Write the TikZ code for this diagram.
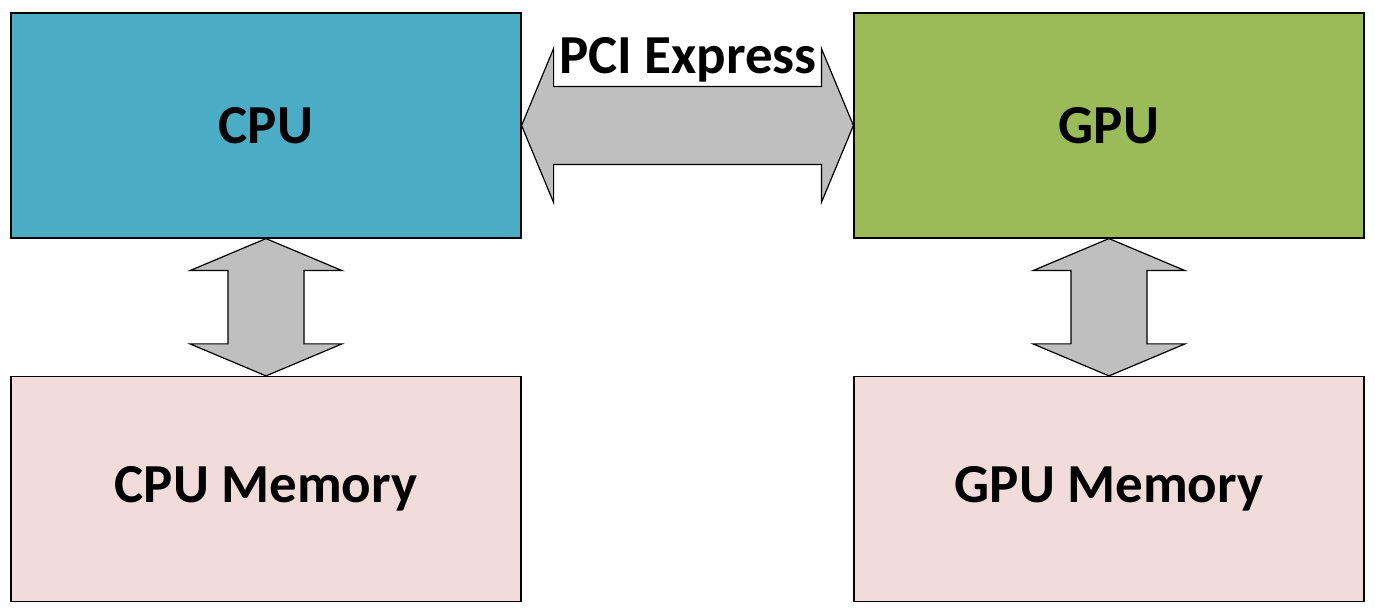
\documentclass[tikz,border=0pt]{standalone}
\usepackage{fontspec}
\setmainfont{Carlito}
\usetikzlibrary{calc}
\definecolor{cpucol}{HTML}{4BACC6}
\definecolor{gpucol}{HTML}{9BBB59}
\definecolor{memcol}{HTML}{F2DCDB}
\definecolor{buscol}{HTML}{BFBFBF}
\begin{document}
\begin{tikzpicture}[x=0.5pt, y=-0.5pt,
        unit/.style={draw=black, line width=0.6pt, minimum width=255pt, minimum height=112.5pt, inner sep=0pt, font=\fontsize{27.5}{32}\selectfont\bfseries},
        bus/.style={draw=black, line width=0.6pt, fill=buscol, line join=miter}]
            \useasboundingbox (0,0) rectangle (1375,613);
            \node[unit, fill=cpucol] (cpu) at (266,125.5) {CPU};
            \node[unit, fill=gpucol] (gpu) at (1109,125.5) {GPU};
            \node[unit, fill=memcol] (cpumem) at (266,489) {CPU Memory};
            \node[unit, fill=memcol] (gpumem) at (1109,489) {GPU Memory};
            % PCI Express link
            \draw[bus] (cpu.east) -- ++(32,-77) -- ++(0,38) -- ($(gpu.west)+(-32,-39)$) -- ++(0,-38)
                -- (gpu.west) -- ++(-32,77) -- ++(0,-38) -- ($(cpu.east)+(32,39)$) -- ++(0,38) -- cycle;
            \node[anchor=base, inner sep=0pt, font=\fontsize{27.5}{32}\selectfont\bfseries] (pcie) at (688,74) {PCI Express};
            % memory links
            \draw[bus] (cpu.south) -- ++(76,32) -- ++(-38,0) -- ($(cpumem.north)+(38,-32)$) -- ++(38,0)
                -- (cpumem.north) -- ++(-76,-32) -- ++(38,0) -- ($(cpu.south)+(-38,32)$) -- ++(-38,0) -- cycle;
            \draw[bus] (gpu.south) -- ++(76,32) -- ++(-38,0) -- ($(gpumem.north)+(38,-32)$) -- ++(38,0)
                -- (gpumem.north) -- ++(-76,-32) -- ++(38,0) -- ($(gpu.south)+(-38,32)$) -- ++(-38,0) -- cycle;
        \end{tikzpicture}
\end{document}
